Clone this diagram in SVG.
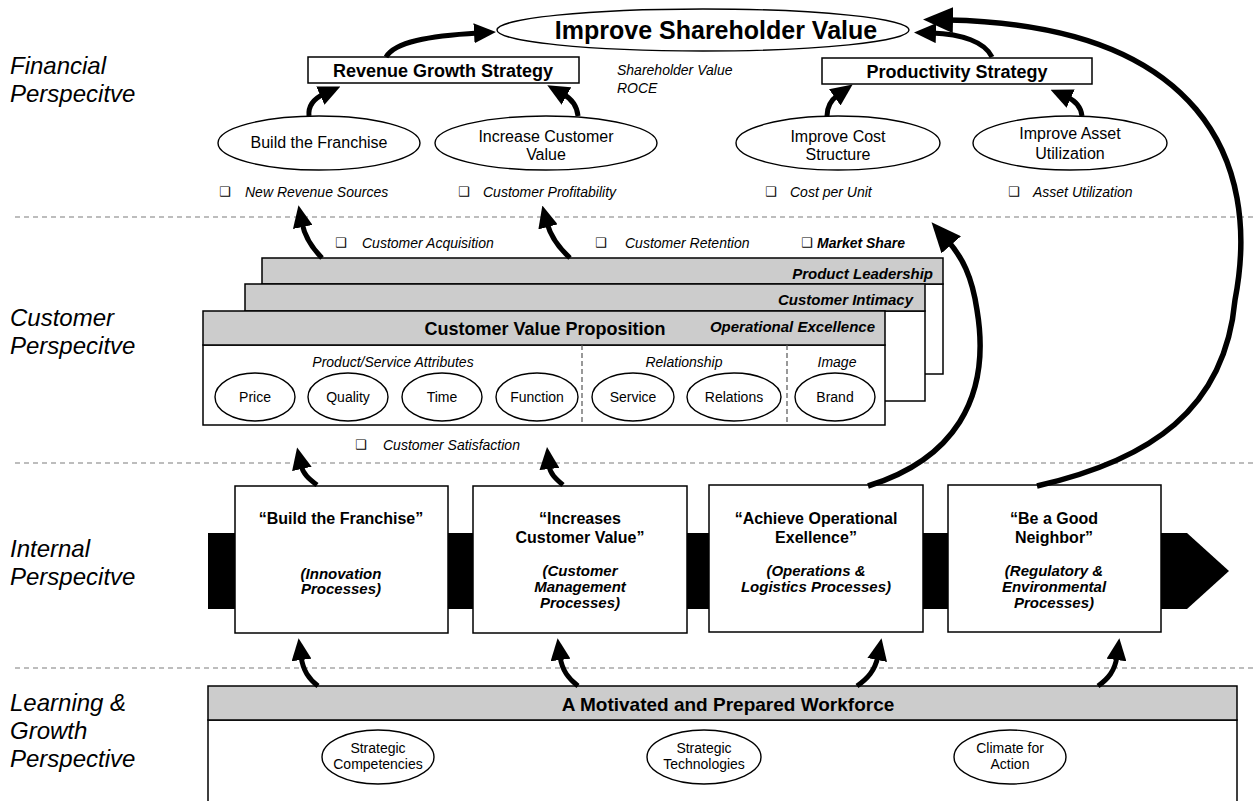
<svg xmlns="http://www.w3.org/2000/svg" width="1253" height="801" viewBox="0 0 1253 801">
  <style>
    text { font-family: "Liberation Sans", Arial, sans-serif; fill: #000; }
    .persp { font-size: 24px; font-style: italic; }
    .strat { font-size: 18px; font-weight: bold; }
    .oval { fill: #fff; stroke: #000; stroke-width: 1.4; }
    .ovtxt { font-size: 16px; text-anchor: middle; }
    .ovsm { font-size: 14px; text-anchor: middle; }
    .meas { font-size: 14px; font-style: italic; }
    .chk { font-family: "DejaVu Sans", sans-serif; font-size: 13px; }
    .box { fill: #fff; stroke: #000; stroke-width: 1.5; }
    .hdr { fill: #cccccc; stroke: #000; stroke-width: 1.5; }
    .hdrtxt { font-size: 15px; font-weight: bold; font-style: italic; text-anchor: end; }
    .sect { font-size: 14px; font-style: italic; text-anchor: middle; }
    .ptitle { font-size: 16px; font-weight: bold; text-anchor: middle; }
    .psub { font-size: 15px; font-weight: bold; font-style: italic; text-anchor: middle; }
    .sep { stroke: #a8a8a8; stroke-width: 1.5; stroke-dasharray: 5 4; fill: none; }
    .div { stroke: #555; stroke-width: 1.2; stroke-dasharray: 5 3; fill: none; }
    .arr { fill: none; stroke: #000; stroke-width: 5; marker-end: url(#ah); }
    .arrBig { fill: none; stroke: #000; stroke-width: 5.5; marker-end: url(#ahBig); }
  </style>
  <defs>
    <marker id="ah" markerUnits="userSpaceOnUse" viewBox="0 0 22 20" markerWidth="22" markerHeight="20" refX="4" refY="10" orient="auto">
      <path d="M0,0 L22,10 L0,20 z" fill="#000"/>
    </marker>
    <marker id="ahBig" markerUnits="userSpaceOnUse" viewBox="0 0 30 26" markerWidth="30" markerHeight="26" refX="5" refY="13" orient="auto">
      <path d="M0,0 L30,13 L0,26 z" fill="#000"/>
    </marker>
  </defs>

  <rect width="1253" height="801" fill="#fff"/>

  <!-- perspective separators -->
  <g id="separators">
    <line class="sep" x1="15" y1="217" x2="1253" y2="217"/>
    <line class="sep" x1="15" y1="463" x2="1253" y2="463"/>
    <line class="sep" x1="15" y1="668" x2="1253" y2="668"/>
  </g>

  <!-- perspective labels -->
  <g id="labels">
    <text class="persp" x="10" y="74">Financial</text>
    <text class="persp" x="10" y="102">Perspecitve</text>
    <text class="persp" x="10" y="326">Customer</text>
    <text class="persp" x="10" y="354">Perspecitve</text>
    <text class="persp" x="10" y="557">Internal</text>
    <text class="persp" x="10" y="585">Perspecitve</text>
    <text class="persp" x="10" y="711">Learning &amp;</text>
    <text class="persp" x="10" y="739">Growth</text>
    <text class="persp" x="10" y="767">Perspective</text>
  </g>

  <!-- financial perspective -->
  <g id="shareholder-value">
    <ellipse class="oval" cx="703" cy="30" rx="206" ry="21"/>
    <text x="716" y="39" font-size="25" font-weight="bold" text-anchor="middle">Improve Shareholder Value</text>
  </g>
  <g id="revenue-growth">
    <rect class="box" x="308" y="57" width="271" height="26"/>
    <text class="strat" x="443" y="77" text-anchor="middle">Revenue Growth Strategy</text>
  </g>
  <g id="financial-measures">
    <text class="meas" x="617" y="75" font-size="15.5">Shareholder Value</text>
    <text class="meas" x="617" y="93" font-size="15.5">ROCE</text>
  </g>
  <g id="productivity">
    <rect class="box" x="822" y="58" width="270" height="26"/>
    <text class="strat" x="957" y="78" text-anchor="middle">Productivity Strategy</text>
  </g>
  <g id="build-franchise">
    <ellipse class="oval" cx="319" cy="143" rx="101" ry="27"/>
    <text class="ovtxt" x="319" y="148">Build the Franchise</text>
  </g>
  <g id="increase-value">
    <ellipse class="oval" cx="546" cy="143" rx="111" ry="27"/>
    <text class="ovtxt" x="546" y="142">Increase Customer</text>
    <text class="ovtxt" x="546" y="160">Value</text>
  </g>
  <g id="cost-structure">
    <ellipse class="oval" cx="838" cy="143" rx="102" ry="27"/>
    <text class="ovtxt" x="838" y="142">Improve Cost</text>
    <text class="ovtxt" x="838" y="160">Structure</text>
  </g>
  <g id="asset-utilization">
    <ellipse class="oval" cx="1070" cy="143" rx="97" ry="27"/>
    <text class="ovtxt" x="1070" y="139">Improve Asset</text>
    <text class="ovtxt" x="1070" y="159">Utilization</text>
  </g>
  <g id="financial-bullets">
    <text class="chk" x="219" y="196">❑</text>
    <text class="meas" x="245" y="197">New Revenue Sources</text>
    <text class="chk" x="458" y="196">❑</text>
    <text class="meas" x="483" y="197">Customer Profitability</text>
    <text class="chk" x="765" y="196">❑</text>
    <text class="meas" x="790" y="197">Cost per Unit</text>
    <text class="chk" x="1008" y="196">❑</text>
    <text class="meas" x="1033" y="197">Asset Utilization</text>
  </g>

  <!-- customer perspective -->
  <g id="customer-bullets">
    <text class="chk" x="335" y="247">❑</text>
    <text class="meas" x="362" y="248">Customer Acquisition</text>
    <text class="chk" x="595" y="247">❑</text>
    <text class="meas" x="625" y="248">Customer Retention</text>
    <text class="chk" x="801" y="247">❑</text>
    <text class="meas" x="817" y="248" font-weight="bold">Market Share</text>
  </g>
  <g id="product-leadership">
    <rect class="box" x="262" y="284" width="681" height="90"/>
    <rect class="hdr" x="262" y="258" width="681" height="26"/>
    <text class="hdrtxt" x="933" y="279">Product Leadership</text>
  </g>
  <g id="customer-intimacy">
    <rect class="box" x="245" y="311" width="680" height="90"/>
    <rect class="hdr" x="245" y="284" width="680" height="27"/>
    <text class="hdrtxt" x="913" y="305">Customer Intimacy</text>
  </g>
  <g id="value-proposition">
    <rect class="box" x="203" y="345" width="682" height="80"/>
    <rect class="hdr" x="203" y="311" width="682" height="34"/>
    <text x="545" y="335" font-size="18" font-weight="bold" text-anchor="middle">Customer Value Proposition</text>
    <text class="hdrtxt" x="875" y="332">Operational Excellence</text>
    <line class="div" x1="582" y1="345" x2="582" y2="425"/>
    <line class="div" x1="787" y1="345" x2="787" y2="425"/>
    <text class="sect" x="393" y="367">Product/Service Attributes</text>
    <text class="sect" x="684" y="367">Relationship</text>
    <text class="sect" x="837" y="367">Image</text>
  </g>
  <g id="price">
    <ellipse class="oval" cx="255" cy="397" rx="40" ry="24"/>
    <text class="ovsm" x="255" y="402">Price</text>
  </g>
  <g id="quality">
    <ellipse class="oval" cx="348" cy="397" rx="40" ry="24"/>
    <text class="ovsm" x="348" y="402">Quality</text>
  </g>
  <g id="time">
    <ellipse class="oval" cx="442" cy="397" rx="40" ry="24"/>
    <text class="ovsm" x="442" y="402">Time</text>
  </g>
  <g id="function">
    <ellipse class="oval" cx="537" cy="397" rx="41" ry="24"/>
    <text class="ovsm" x="537" y="402">Function</text>
  </g>
  <g id="service">
    <ellipse class="oval" cx="633" cy="397" rx="41" ry="24"/>
    <text class="ovsm" x="633" y="402">Service</text>
  </g>
  <g id="relations">
    <ellipse class="oval" cx="734" cy="397" rx="47" ry="24"/>
    <text class="ovsm" x="734" y="402">Relations</text>
  </g>
  <g id="brand">
    <ellipse class="oval" cx="835" cy="397" rx="40" ry="24"/>
    <text class="ovsm" x="835" y="402">Brand</text>
  </g>
  <g id="satisfaction">
    <text class="chk" x="355" y="449">❑</text>
    <text class="meas" x="383" y="450">Customer Satisfaction</text>
  </g>

  <!-- internal perspective: value chain band -->
  <g id="value-chain">
    <rect x="208" y="533" width="953" height="76" fill="#000"/>
    <polygon points="1160,533 1187,533 1229,571 1187,609 1160,609" fill="#000"/>
  </g>
  <g id="innovation">
    <rect class="box" x="235" y="486" width="213" height="147"/>
    <text class="ptitle" x="341" y="524">“Build the Franchise”</text>
    <text class="psub" x="341" y="579">(Innovation</text>
    <text class="psub" x="341" y="594">Processes)</text>
  </g>
  <g id="customer-management">
    <rect class="box" x="473" y="486" width="214" height="147"/>
    <text class="ptitle" x="580" y="524">“Increases</text>
    <text class="ptitle" x="580" y="543">Customer Value”</text>
    <text class="psub" x="580" y="576">(Customer</text>
    <text class="psub" x="580" y="592">Management</text>
    <text class="psub" x="580" y="608">Processes)</text>
  </g>
  <g id="operations">
    <rect class="box" x="709" y="485" width="214" height="147"/>
    <text class="ptitle" x="816" y="524">“Achieve Operational</text>
    <text class="ptitle" x="816" y="543">Exellence”</text>
    <text class="psub" x="816" y="576">(Operations &amp;</text>
    <text class="psub" x="816" y="592">Logistics Processes)</text>
  </g>
  <g id="good-neighbor">
    <rect class="box" x="948" y="485" width="213" height="147"/>
    <text class="ptitle" x="1054" y="524">“Be a Good</text>
    <text class="ptitle" x="1054" y="543">Neighbor”</text>
    <text class="psub" x="1054" y="576">(Regulatory &amp;</text>
    <text class="psub" x="1054" y="592">Environmental</text>
    <text class="psub" x="1054" y="608">Processes)</text>
  </g>

  <!-- learning & growth perspective -->
  <g id="workforce">
    <rect class="box" x="208" y="720" width="1029" height="90"/>
    <rect class="hdr" x="208" y="686" width="1029" height="34"/>
    <text x="728" y="711" font-size="19" font-weight="bold" text-anchor="middle">A Motivated and Prepared Workforce</text>
  </g>
  <g id="competencies">
    <ellipse class="oval" cx="378" cy="757" rx="56" ry="27"/>
    <text class="ovsm" x="378" y="753">Strategic</text>
    <text class="ovsm" x="378" y="769">Competencies</text>
  </g>
  <g id="technologies">
    <ellipse class="oval" cx="704" cy="757" rx="57" ry="27"/>
    <text class="ovsm" x="704" y="753">Strategic</text>
    <text class="ovsm" x="704" y="769">Technologies</text>
  </g>
  <g id="climate">
    <ellipse class="oval" cx="1010" cy="757" rx="56" ry="27"/>
    <text class="ovsm" x="1010" y="753">Climate for</text>
    <text class="ovsm" x="1010" y="769">Action</text>
  </g>

  <!-- cause-and-effect links -->
  <g id="connectors">
    <path class="arr" d="M386,57 C395,42 428,36 478,33"/>
    <path class="arr" d="M992,57 C985,42 962,34 932,33"/>
    <path class="arr" d="M309,116 C308,106 313,99 324,94"/>
    <path class="arr" d="M578,116 C577,106 572,99 563,94"/>
    <path class="arr" d="M827,116 C827,106 831,100 838,95"/>
    <path class="arr" d="M1082,116 C1081,107 1076,101 1067,97"/>
    <path class="arr" d="M322,258 C312,248 305,238 302,223"/>
    <path class="arr" d="M570,258 C559,248 551,238 547,223"/>
    <path class="arr" d="M317,485 C309,479 303,474 301,465"/>
    <path class="arr" d="M563,485 C556,479 550,474 549,465"/>
    <path class="arr" d="M318,686 C309,679 303,671 301,656"/>
    <path class="arr" d="M578,686 C569,679 562,671 560,656"/>
    <path class="arr" d="M857,686 C867,679 875,671 878,656"/>
    <path class="arr" d="M1098,686 C1108,679 1115,671 1117,656"/>
    <path class="arrBig" d="M868,486 C952,460 992,400 977,310 C972,276 962,257 948,241"/>
    <path class="arrBig" d="M1037,486 C1150,460 1225,410 1235,300 C1262,160 1200,25 948,20"/>
  </g>
</svg>
